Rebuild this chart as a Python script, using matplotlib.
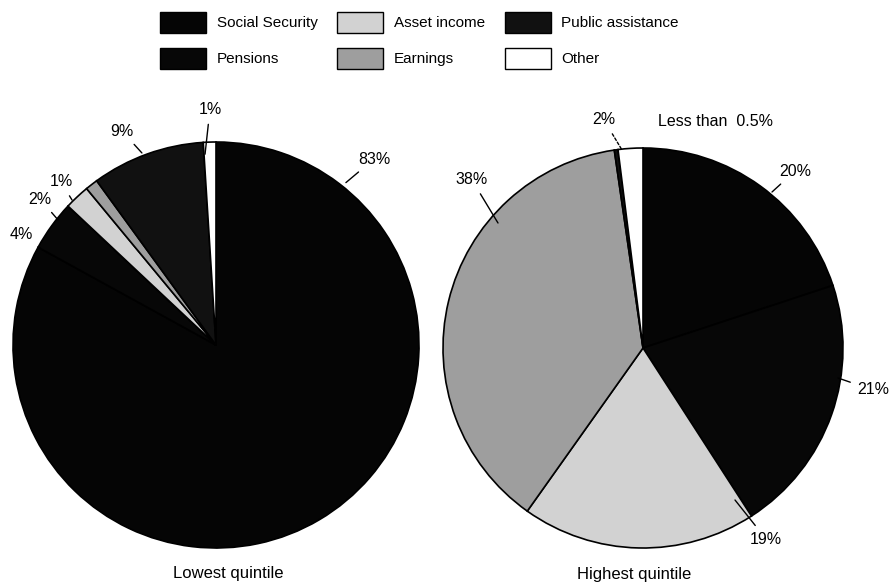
import matplotlib
matplotlib.use('Agg')
import matplotlib.pyplot as plt
from matplotlib.patches import Patch

plt.rcParams['font.family'] = ['Liberation Sans', 'DejaVu Sans']

# Income sources, in clockwise order from 12 o'clock
sources = ['Social Security', 'Pensions', 'Asset income', 'Earnings',
           'Public assistance', 'Other']
lowest = [83, 4, 2, 1, 9, 1]
highest = [20, 21, 19, 38, 0.3, 2]

lowest_labels = ['83%', '4%', '2%', '1%', '9%', '1%']
highest_labels = ['20%', '21%', '19%', '38%', 'Less than  0.5%', '2%']

colors = ['#050505', '#070707', '#d2d2d2', '#9e9e9e', '#111111', '#ffffff']

# label placement: (edge point, text point) in pie data units, None = no leader
lowest_pos = [((0.64, 0.80), (0.778, 0.916)),
              ((-0.867, 0.478), (-0.961, 0.542)),
              ((-0.778, 0.616), (-0.867, 0.719)),
              ((-0.709, 0.714), (-0.764, 0.803)),
              ((-0.365, 0.946), (-0.463, 1.054)),
              ((-0.054, 0.94), (-0.03, 1.158))]
highest_pos = [((0.645, 0.78), (0.76, 0.885)),
               ((0.975, -0.15), (1.15, -0.21)),
               ((0.46, -0.76), (0.615, -0.955)),
               ((-0.725, 0.625), (-0.855, 0.84)),
               (None, (0.36, 1.135)),
               ((-0.105, 0.99), (-0.195, 1.14))]

fig = plt.figure(figsize=(8.92, 5.84), dpi=100)


def draw_pie(rect, values, labels, positions, title, title_xy, dashed_last=False):
    ax = fig.add_axes(rect)
    ax.pie(values, colors=colors, startangle=90, counterclock=False,
           wedgeprops=dict(edgecolor='black', linewidth=1.2))
    ax.set_xlim(-1, 1)
    ax.set_ylim(-1, 1)
    ax.set_aspect('equal')
    ax.axis('off')
    for i, (lab, (edge, txt)) in enumerate(zip(labels, positions)):
        if edge is None:
            ax.text(txt[0], txt[1], lab, ha='center', va='center', fontsize=11.5,
                    clip_on=False)
            continue
        ls = (0, (2, 1.5)) if (dashed_last and i == len(labels) - 1) else '-'
        ax.annotate(lab, xy=edge, xytext=txt, ha='center', va='center',
                    fontsize=11.5, annotation_clip=False,
                    arrowprops=dict(arrowstyle='-', color='black', lw=1,
                                    linestyle=ls, shrinkA=3, shrinkB=0))
    ax.text(title_xy[0], title_xy[1], title, ha='center', va='center',
            fontsize=12, clip_on=False)


draw_pie([13 / 892, 36 / 584, 406 / 892, 406 / 584], lowest, lowest_labels,
         lowest_pos, 'Lowest quintile', (0.06, -1.128))
draw_pie([443 / 892, 36 / 584, 400 / 892, 400 / 584], highest, highest_labels,
         highest_pos, 'Highest quintile', (-0.045, -1.135), dashed_last=True)

handles = [Patch(facecolor=c, edgecolor='black', linewidth=1) for c in colors]
fig.legend(handles, sources, ncol=3, loc='upper left',
           bbox_to_anchor=(160 / 892, 1 - 12 / 584), frameon=False,
           fontsize=11, handlelength=3.0, handleheight=1.7, handletextpad=0.7,
           labelspacing=1.0, columnspacing=1.3, borderpad=0, borderaxespad=0)

fig.savefig('out.png', dpi=100)
